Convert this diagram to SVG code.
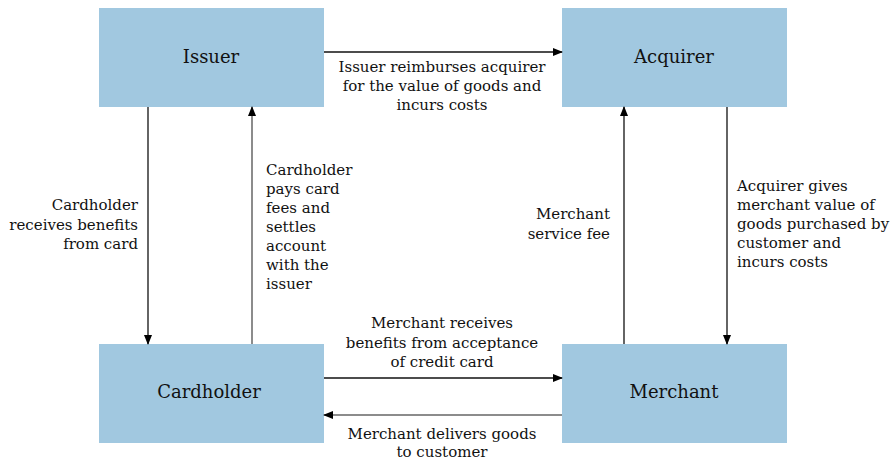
<svg xmlns="http://www.w3.org/2000/svg" width="895" height="462" viewBox="0 0 895 462">
<style>
.box{fill:#a1c8e0}
.nl{font-family:"DejaVu Serif","Liberation Serif",serif;font-size:18px;fill:#111;text-anchor:middle}
.lb{font-family:"DejaVu Serif","Liberation Serif",serif;font-size:15px;fill:#111}
.c{stroke:#111;stroke-width:1.3;fill:none}
.g{stroke:#666;stroke-width:1.5;fill:none}
</style>
<defs>
<marker id="ah" markerWidth="10" markerHeight="8" refX="9" refY="4" orient="auto" markerUnits="userSpaceOnUse">
<path d="M0,0 L10,4 L0,8 z" fill="#000"/>
</marker>
</defs>
<g id="issuer"><rect class="box" x="99" y="8" width="225" height="99"/><text class="nl" x="211" y="63">Issuer</text></g>
<g id="acquirer"><rect class="box" x="562" y="8" width="225" height="99"/><text class="nl" x="674" y="63">Acquirer</text></g>
<g id="cardholder"><rect class="box" x="99" y="344" width="225" height="99"/><text class="nl" x="209" y="398">Cardholder</text></g>
<g id="merchant"><rect class="box" x="562" y="344" width="225" height="99"/><text class="nl" x="674" y="398">Merchant</text></g>
<g id="connectors">
<line class="c" x1="324" y1="52" x2="562" y2="52" marker-end="url(#ah)"/>
<line class="c" x1="148" y1="107" x2="148" y2="344" marker-end="url(#ah)"/>
<line class="g" x1="252" y1="344" x2="252" y2="107" marker-end="url(#ah)"/>
<line class="c" x1="727" y1="107" x2="727" y2="344" marker-end="url(#ah)"/>
<line class="c" x1="624" y1="344" x2="624" y2="107" marker-end="url(#ah)"/>
<line class="c" x1="324" y1="378" x2="562" y2="378" marker-end="url(#ah)"/>
<line class="g" x1="562" y1="415" x2="324" y2="415" marker-end="url(#ah)"/>
</g>
<g id="labels">
<text class="lb" text-anchor="middle"><tspan x="442" y="72">Issuer reimburses acquirer</tspan><tspan x="442" y="91">for the value of goods and</tspan><tspan x="442" y="110">incurs costs</tspan></text>
<text class="lb" text-anchor="end"><tspan x="138" y="210">Cardholder</tspan><tspan x="138" y="230">receives benefits</tspan><tspan x="138" y="249">from card</tspan></text>
<text class="lb"><tspan x="266" y="175">Cardholder</tspan><tspan x="266" y="194">pays card</tspan><tspan x="266" y="213">fees and</tspan><tspan x="266" y="232">settles</tspan><tspan x="266" y="251">account</tspan><tspan x="266" y="270">with the</tspan><tspan x="266" y="289">issuer</tspan></text>
<text class="lb" text-anchor="end"><tspan x="610" y="219">Merchant</tspan><tspan x="610" y="239">service fee</tspan></text>
<text class="lb"><tspan x="737" y="191">Acquirer gives</tspan><tspan x="737" y="210">merchant value of</tspan><tspan x="737" y="229">goods purchased by</tspan><tspan x="737" y="248">customer and</tspan><tspan x="737" y="267">incurs costs</tspan></text>
<text class="lb" text-anchor="middle"><tspan x="442" y="328">Merchant receives</tspan><tspan x="442" y="348">benefits from acceptance</tspan><tspan x="442" y="367">of credit card</tspan></text>
<text class="lb" text-anchor="middle"><tspan x="442" y="439">Merchant delivers goods</tspan><tspan x="442" y="457">to customer</tspan></text>
</g>
</svg>
